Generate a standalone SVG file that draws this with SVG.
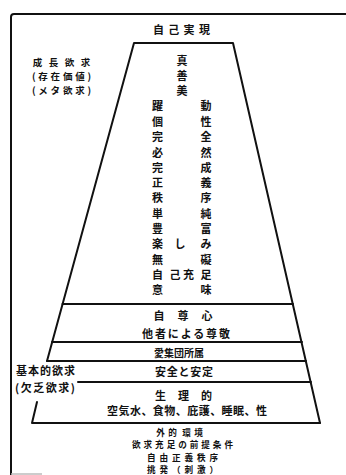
<svg xmlns="http://www.w3.org/2000/svg" width="346" height="475" viewBox="0 0 346 475">
<style>
text{font-family:"Noto Sans CJK JP","Noto Sans CJK SC",sans-serif;font-weight:700;font-size:11px;fill:#111;text-anchor:middle;dominant-baseline:central}
.s{font-size:10px}
.g{font-size:9.5px}
.b{font-size:8.6px}
.ln{stroke:#111;stroke-width:2;fill:none;stroke-linecap:round;stroke-linejoin:round}
.fr{stroke:#111;stroke-width:2;fill:none}
</style>
<rect width="346" height="475" fill="#fff"/>
<g id="frame">
<path class="fr" d="M11,475 L11,17 Q11,14 14,14 L346,14"/>
<line x1="11" y1="474" x2="42" y2="474" stroke="#bbb" stroke-width="1.5"/>
</g>
<g id="connectors">
<path class="ln" d="M47,361 L134,43 L233,43 L320,423"/>
<line class="ln" x1="62.5" y1="304" x2="293" y2="304"/>
<line class="ln" x1="52" y1="342" x2="302" y2="342"/>
<line class="ln" x1="47" y1="361" x2="306" y2="361"/>
<line class="ln" x1="78" y1="382" x2="311" y2="382"/>
<path class="ln" d="M37,402 L32,423 L320,423"/>
</g>
<g id="self-actualization">
<text x="158.5 173.8 189.1 204.5" y="29">自己実現</text>
<text x="182" y="60">真</text>
<text x="182" y="75">善</text>
<text x="182" y="90">美</text>
<text x="157.5" y="105">躍</text><text x="206" y="105">動</text>
<text x="157.5" y="121">個</text><text x="206" y="121">性</text>
<text x="157.5" y="136">完</text><text x="206" y="136">全</text>
<text x="157.5" y="152">必</text><text x="206" y="152">然</text>
<text x="157.5" y="167">完</text><text x="206" y="167">成</text>
<text x="157.5" y="182">正</text><text x="206" y="182">義</text>
<text x="157.5" y="197">秩</text><text x="206" y="197">序</text>
<text x="157.5" y="213">単</text><text x="206" y="213">純</text>
<text x="157.5" y="228">豊</text><text x="206" y="228">富</text>
<text x="157.5" y="243">楽</text><text x="180" y="243">し</text><text x="206" y="243">み</text>
<text x="157.5" y="259">無</text><text x="206" y="259">礙</text>
<text x="157.5 175 188.5 206" y="274">自己充足</text>
<text x="157.5" y="289">意</text><text x="206" y="289">味</text>
</g>
<g id="growth-label">
<text class="g" x="37.5 53.5 69.5 85.5" y="62">成長欲求</text>
<text class="g" x="61.5" y="76" textLength="59" lengthAdjust="spacing">(存在価値)</text>
<text class="g" x="61.5" y="90" textLength="59" lengthAdjust="spacing">(メタ欲求)</text>
</g>
<g id="esteem">
<text x="159 183 207" y="315">自尊心</text>
<text x="186" y="333" textLength="88" lengthAdjust="spacing">他者による尊敬</text>
</g>
<g id="belonging">
<text class="s" x="179" y="352" textLength="50" lengthAdjust="spacing">愛集団所属</text>
</g>
<g id="safety">
<text x="184" y="371" textLength="58" lengthAdjust="spacing">安全と安定</text>
</g>
<g id="basic-label">
<text x="45.5" y="370" textLength="59" lengthAdjust="spacing">基本的欲求</text>
<text x="45" y="387" textLength="60" lengthAdjust="spacing">(欠乏欲求)</text>
</g>
<g id="physiological">
<text x="160.5 183.5 206.5" y="395">生理的</text>
<text x="187" y="410" textLength="160" lengthAdjust="spacing">空気水、食物、庇護、睡眠、性</text>
</g>
<g id="environment">
<text class="b" x="160.5 172.5 186.5 198.5" y="431.5">外的環境</text>
<text class="b" x="182.5" y="444" textLength="101" lengthAdjust="spacing">欲求充足の前提条件</text>
<text class="b" x="182.5" y="456.5" textLength="71" lengthAdjust="spacing">自由正義秩序</text>
<text class="b" x="182.5" y="469" textLength="71" lengthAdjust="spacing">挑発（刺激）</text>
</g>
</svg>
